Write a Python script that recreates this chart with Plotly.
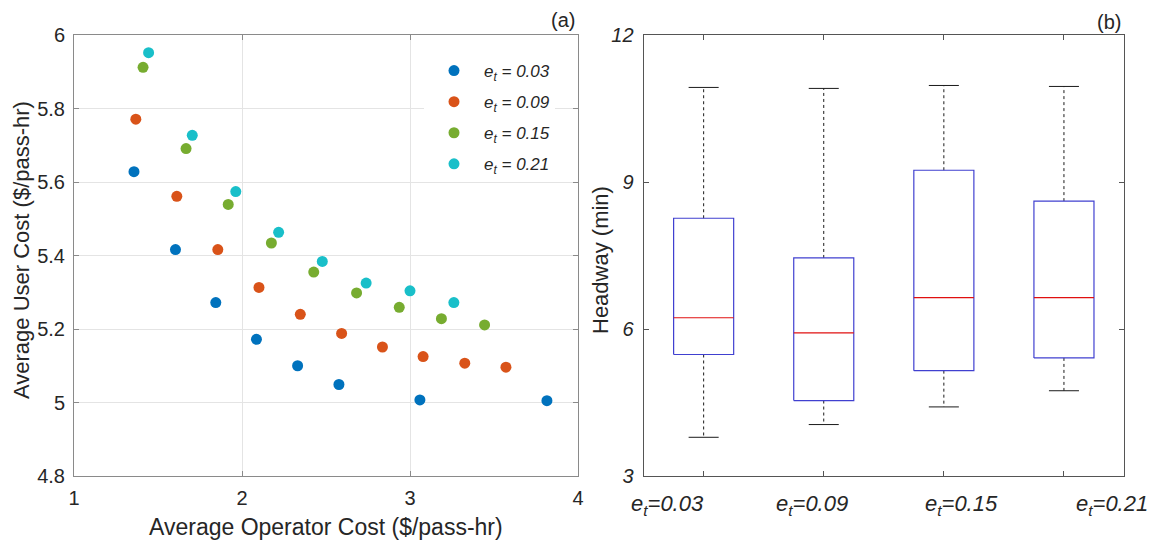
import plotly.graph_objects as go

# ---------------- data: panel (a) ----------------
series_names = ["e_t = 0.03", "e_t = 0.09", "e_t = 0.15", "e_t = 0.21"]
op_cost_003 = [1.357, 1.604, 1.844, 2.086, 2.331, 2.577, 3.059, 3.815]
user_cost_003 = [5.628, 5.416, 5.272, 5.172, 5.100, 5.049, 5.007, 5.005]
op_cost_009 = [1.368, 1.612, 1.856, 2.101, 2.347, 2.593, 2.836, 3.078, 3.326, 3.571]
user_cost_009 = [5.771, 5.561, 5.416, 5.313, 5.240, 5.188, 5.151, 5.125, 5.107, 5.096]
op_cost_015 = [1.411, 1.667, 1.918, 2.175, 2.427, 2.682, 2.936, 3.187, 3.444]
user_cost_015 = [5.912, 5.691, 5.539, 5.434, 5.355, 5.298, 5.259, 5.228, 5.211]
op_cost_021 = [1.444, 1.704, 1.963, 2.218, 2.478, 2.739, 3.000, 3.261]
user_cost_021 = [5.952, 5.727, 5.574, 5.463, 5.384, 5.325, 5.304, 5.272]
series_colors = ["#0072BD", "#D95319", "#77AC30", "#19BFC9"]

# ---------------- data: panel (b) ----------------
box_positions = [1, 2, 3, 4]
box_labels = ["e_t=0.03", "e_t=0.09", "e_t=0.15", "e_t=0.21"]
hw_upper = [10.93, 10.91, 10.97, 10.95]
hw_q3 = [8.26, 7.45, 9.24, 8.61]
hw_median = [6.23, 5.92, 6.64, 6.64]
hw_q1 = [5.48, 4.54, 5.15, 5.41]
hw_lower = [3.79, 4.05, 4.41, 4.74]

# where the category captions sit under panel (b) (x2 axis units, as in the source figure)
label_anchor_x = [0.70, 1.90, 3.15, 4.40]

BOX_W = 0.5
CAP_W = 0.25
FONT = "Liberation Sans, Arial, sans-serif"
TXT = "#262626"


def fmt_et(s, spaced=True):
    val = s.split("=")[1].strip()
    sep = " = " if spaced else "="
    return "<i>e<sub>t</sub>" + sep + val + "</i>"


fig = go.Figure()

xs = [op_cost_003, op_cost_009, op_cost_015, op_cost_021]
ys = [user_cost_003, user_cost_009, user_cost_015, user_cost_021]
for i, name in enumerate(series_names):
    fig.add_trace(go.Scatter(
        x=xs[i], y=ys[i], mode="markers", name=fmt_et(name),
        legendgroup="g%d" % i,
        marker=dict(size=11, color=series_colors[i]),
        xaxis="x", yaxis="y"))

# box plot elements built from the arrays
wx, wy, cx, cy, bx, by, mx, my = [], [], [], [], [], [], [], []
for p, up, q3, md, q1, lo in zip(box_positions, hw_upper, hw_q3, hw_median, hw_q1, hw_lower):
    wx += [p, p, None, p, p, None]
    wy += [q3, up, None, q1, lo, None]
    cx += [p - CAP_W / 2, p + CAP_W / 2, None, p - CAP_W / 2, p + CAP_W / 2, None]
    cy += [up, up, None, lo, lo, None]
    bx += [p - BOX_W / 2, p + BOX_W / 2, p + BOX_W / 2, p - BOX_W / 2, p - BOX_W / 2, None]
    by += [q1, q1, q3, q3, q1, None]
    mx += [p - BOX_W / 2, p + BOX_W / 2, None]
    my += [md, md, None]

fig.add_trace(go.Scatter(x=wx, y=wy, mode="lines", showlegend=False,
                         line=dict(color="#1a1a1a", width=1, dash="3px,3px"),
                         xaxis="x2", yaxis="y2", hoverinfo="skip"))
fig.add_trace(go.Scatter(x=cx, y=cy, mode="lines", showlegend=False,
                         line=dict(color="#1a1a1a", width=1),
                         xaxis="x2", yaxis="y2", hoverinfo="skip"))
fig.add_trace(go.Scatter(x=bx, y=by, mode="lines", showlegend=False,
                         line=dict(color="#4040d0", width=1.2),
                         xaxis="x2", yaxis="y2"))
fig.add_trace(go.Scatter(x=mx, y=my, mode="lines", showlegend=False,
                         line=dict(color="#e01010", width=1.2),
                         xaxis="x2", yaxis="y2"))

L, R, T, B = 74, 36, 35, 64
W, H = 1160, 540
PW, PH = W - L - R, H - T - B


def px(xp):
    return (xp - L) / PW


def py(yp):
    return (H - B - yp) / PH


fig.update_layout(
    width=W, height=H,
    margin=dict(l=L, r=R, t=T, b=B),
    paper_bgcolor="white", plot_bgcolor="white",
    font=dict(family=FONT, color=TXT, size=19),
    xaxis=dict(domain=[0, px(578)], range=[1, 4], tickvals=[1, 2, 3, 4],
               showgrid=True, gridcolor="#e4e4e4", zeroline=False,
               showline=True, linecolor="#8a8a8a", linewidth=1, mirror="ticks",
               ticks="inside", ticklen=5, tickcolor="#8a8a8a",
               tickfont=dict(size=20, color=TXT), ticklabelstandoff=4),
    yaxis=dict(domain=[0, 1], range=[4.8, 6], tickvals=[4.8, 5, 5.2, 5.4, 5.6, 5.8, 6],
               showgrid=True, gridcolor="#e4e4e4", zeroline=False,
               showline=True, linecolor="#8a8a8a", linewidth=1, mirror="ticks",
               ticks="inside", ticklen=5, tickcolor="#8a8a8a",
               tickfont=dict(size=20, color=TXT), ticklabelstandoff=4),
    xaxis2=dict(domain=[px(643.6), 1], range=[0.5, 4.5], anchor="y2",
                tickvals=box_positions, showticklabels=False,
                showgrid=False, zeroline=False,
                showline=True, linecolor="#555555", linewidth=1, mirror="ticks",
                ticks="inside", ticklen=5, tickcolor="#555555"),
    yaxis2=dict(domain=[0, 1], range=[3, 12], anchor="x2", tickvals=[3, 6, 9, 12],
                showgrid=False, zeroline=False,
                showline=True, linecolor="#555555", linewidth=1, mirror="ticks",
                ticks="inside", ticklen=5, tickcolor="#555555",
                tickfont=dict(size=20, color=TXT, style="italic"), ticklabelstandoff=5),
    legend=dict(x=px(424), y=py(53), xanchor="left", yanchor="top",
                bgcolor="white", borderwidth=0, itemwidth=50,
                font=dict(size=17, color=TXT), tracegroupgap=6),
    showlegend=True,
)

# category captions of panel (b), text from box_labels
for lx, lab in zip(label_anchor_x, box_labels):
    fig.add_annotation(text=fmt_et(lab, False), x=lx, y=py(505), xref="x2", yref="paper",
                       xanchor="center", yanchor="middle", showarrow=False,
                       font=dict(size=22, color=TXT, family=FONT))

annots = [
    dict(text="Average User Cost ($/pass-hr)", x=px(22), y=py(250), textangle=-90, size=22),
    dict(text="Average Operator Cost ($/pass-hr)", x=px(326), y=py(527), textangle=0, size=23),
    dict(text="Headway (min)", x=px(600), y=py(260), textangle=-90, size=22),
    dict(text="(a)", x=px(563), y=py(20), textangle=0, size=20),
    dict(text="(b)", x=px(1109), y=py(22), textangle=0, size=20),
]
for a in annots:
    fig.add_annotation(text=a["text"], x=a["x"], y=a["y"], xref="paper", yref="paper",
                       xanchor="center", yanchor="middle", showarrow=False,
                       textangle=a["textangle"], font=dict(size=a["size"], color=TXT, family=FONT))

fig.write_html("out.html")
